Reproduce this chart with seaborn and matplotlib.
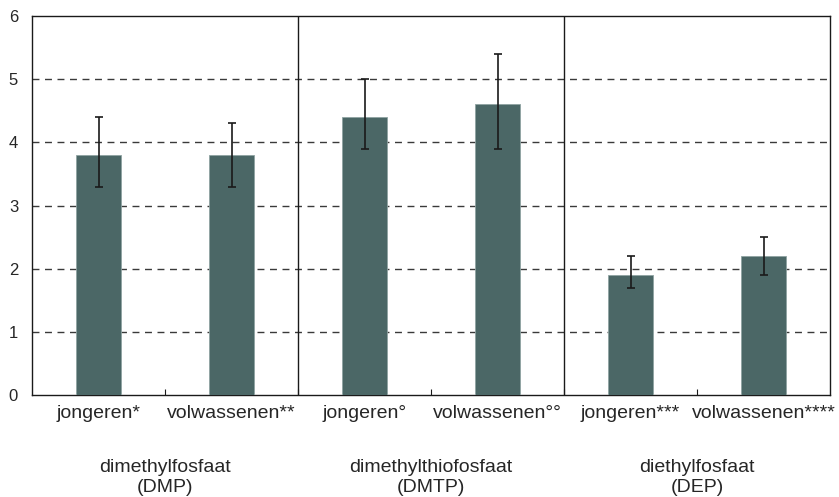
import matplotlib
matplotlib.use("Agg")
import matplotlib.pyplot as plt
import seaborn as sns
import numpy as np
import pandas as pd

# Bar categories, mean values and error-bar limits
labels = ["jongeren*", "volwassenen**", "jongeren°", "volwassenen°°",
          "jongeren***", "volwassenen****"]
values = [3.8, 3.8, 4.4, 4.6, 1.9, 2.2]
err_low = [3.3, 3.3, 3.9, 3.9, 1.7, 1.9]
err_high = [4.4, 4.3, 5.0, 5.4, 2.2, 2.5]
groups = ["dimethylfosfaat\n(DMP)", "dimethylthiofosfaat\n(DMTP)",
          "diethylfosfaat\n(DEP)"]
y_ticks = [0, 1, 2, 3, 4, 5, 6]

sns.set_style("white")
plt.rcParams["font.family"] = ["Liberation Sans", "DejaVu Sans"]

fig = plt.figure(figsize=(8.39, 4.97), dpi=100)
ax = fig.add_axes([32 / 839, (497 - 395) / 497, (830 - 32) / 839, (395 - 16) / 497])

df = pd.DataFrame({"label": labels, "value": values})
bar_color = "#4b6766"
sns.barplot(data=df, x="label", y="value", color=bar_color, width=0.34,
            saturation=1, edgecolor="#8fa3a2", linewidth=0.6, ax=ax, zorder=3)

xs = np.arange(len(labels))
vals = np.array(values)
yerr = np.vstack([vals - np.array(err_low), np.array(err_high) - vals])
ax.errorbar(xs, vals, yerr=yerr, fmt="none", ecolor="#1a1a1a", elinewidth=1.2,
            capsize=3, capthick=1.2, zorder=4)

ax.set_xlim(-0.5, len(labels) - 0.5)
ax.set_ylim(0, 6)
ax.set_yticks(y_ticks)
ax.set_yticklabels([str(t) for t in y_ticks], fontsize=12)
ax.set_xlabel("")
ax.set_ylabel("")

# Dashed horizontal gridlines
for t in y_ticks[1:-1]:
    ax.axhline(t, color="#3a3a3a", linestyle=(0, (5, 4)), linewidth=1.0, zorder=1)

# Group separators
for sep in [1.5, 3.5]:
    ax.axvline(sep, color="#1a1a1a", linewidth=1.0, zorder=2)

for side in ["left", "right", "top", "bottom"]:
    ax.spines[side].set_visible(True)
    ax.spines[side].set_color("#1a1a1a")
    ax.spines[side].set_linewidth(1.0)

ax.set_xticks(xs)
ax.set_xticklabels(labels, fontsize=14)
ax.tick_params(axis="x", length=0, pad=7)
ax.tick_params(axis="y", length=0, pad=10)

# Small inward ticks on the baseline between bars
ax.set_xticks(np.arange(0.5, len(labels) - 1, 1.0), minor=True)
ax.tick_params(axis="x", which="minor", direction="in", length=4, width=0.8,
               color="#1a1a1a", bottom=True)

for i, g in enumerate(groups):
    ax.text(2 * i + 0.5, -0.17, g, transform=ax.get_xaxis_transform(),
            ha="center", va="top", fontsize=14, linespacing=1.2)

fig.savefig("out.png", dpi=100, facecolor="white")
